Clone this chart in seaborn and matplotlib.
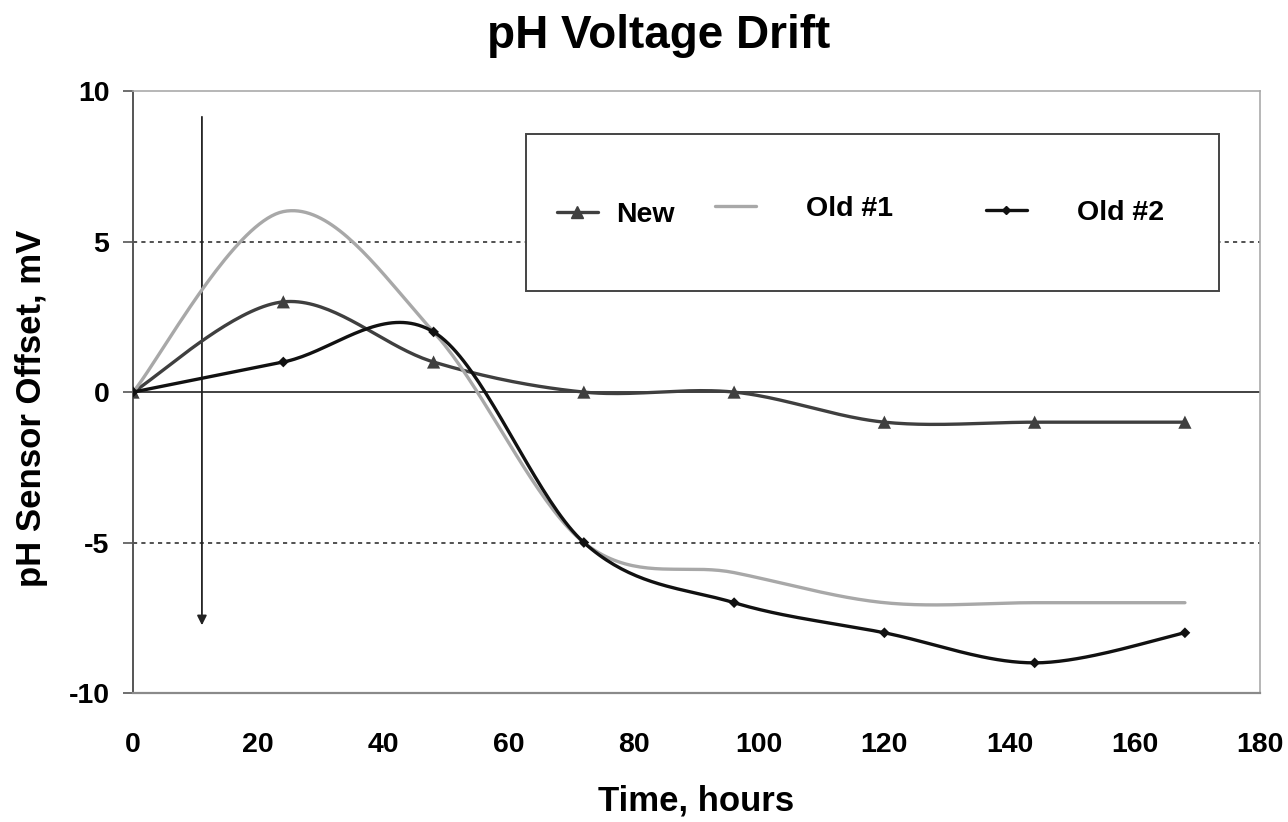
import numpy as np
import pandas as pd
import matplotlib
matplotlib.use("Agg")
import matplotlib.pyplot as plt
import seaborn as sns
from matplotlib.lines import Line2D
from matplotlib.patches import Rectangle

# ---- data ----
hours = [0, 24, 48, 72, 96, 120, 144, 168]
new = [0, 3, 1, 0, 0, -1, -1, -1]
old1 = [0, 6, 2, -5, -6, -7, -7, -7]
old2 = [0, 1, 2, -5, -7, -8, -9, -8]
series_names = ["New", "Old #1", "Old #2"]
x_ticks = list(range(0, 181, 20))
y_ticks = [-10, -5, 0, 5, 10]
title = "pH Voltage Drift"
xlabel = "Time, hours"
ylabel = "pH Sensor Offset, mV"

colors = {"New": "#3f3f3f", "Old #1": "#a8a8a8", "Old #2": "#111111"}


def smooth(xs, ys, n=40):
    """Excel-style smoothed line (cubic Bezier through the data points)."""
    P = np.column_stack([np.asarray(xs, float), np.asarray(ys, float)])
    out = []
    for i in range(len(P) - 1):
        p0 = P[max(i - 1, 0)]
        p1 = P[i]
        p2 = P[i + 1]
        p3 = P[min(i + 2, len(P) - 1)]
        c1 = p1 + (p2 - p0) / 6.0
        c2 = p2 - (p3 - p1) / 6.0
        t = np.linspace(0, 1, n, endpoint=(i == len(P) - 2))[:, None]
        b = (1 - t) ** 3 * p1 + 3 * (1 - t) ** 2 * t * c1 + 3 * (1 - t) * t ** 2 * c2 + t ** 3 * p2
        out.append(b)
    return np.vstack(out)


sns.set_theme(style="white")
plt.rcParams["font.family"] = ["Liberation Sans", "DejaVu Sans"]
plt.rcParams["font.weight"] = "bold"
plt.rcParams["axes.unicode_minus"] = False
plt.rcParams["text.color"] = "black"
plt.rcParams["xtick.color"] = "black"
plt.rcParams["ytick.color"] = "black"
plt.rcParams["axes.labelcolor"] = "black"

fig = plt.figure(figsize=(12.88, 8.22), dpi=100)
ax = fig.add_axes([0.1033, 0.157, 0.8750, 0.732])

frames = []
for name, vals in zip(series_names, [new, old1, old2]):
    c = smooth(hours, vals)
    frames.append(pd.DataFrame({"x": c[:, 0], "y": c[:, 1], "series": name,
                                "order": np.arange(len(c))}))
curves = pd.concat(frames, ignore_index=True)

# reference lines
ax.axhline(0, color="#333333", lw=1.3, zorder=1)
for yv in (5, -5):
    ax.axhline(yv, color="#333333", lw=1.2, ls=(0, (2.5, 2.5)), zorder=1)

sns.lineplot(data=curves, x="x", y="y", hue="series", palette=colors,
             sort=False, estimator=None, units="series", lw=2.4, ax=ax,
             legend=False, zorder=3)

raw = pd.DataFrame({"x": hours * 2, "y": new + old2,
                    "series": ["New"] * len(hours) + ["Old #2"] * len(hours)})
sns.scatterplot(data=raw[raw.series == "New"], x="x", y="y", color=colors["New"],
                marker="^", s=90, edgecolor="none", ax=ax, zorder=4, legend=False)
sns.scatterplot(data=raw[raw.series == "Old #2"], x="x", y="y", color=colors["Old #2"],
                marker="D", s=30, edgecolor="none", ax=ax, zorder=4, legend=False)

# arrow
ax.annotate("", xy=(11, -7.75), xytext=(11, 9.15),
            arrowprops=dict(arrowstyle="-|>", color="#222222", lw=1.3,
                            mutation_scale=14, shrinkA=0, shrinkB=0), zorder=2)

ax.set_xlim(0, 180)
ax.set_ylim(-10, 10)
ax.set_xticks(x_ticks)
ax.set_yticks(y_ticks)
ax.tick_params(axis="x", length=0, pad=28, labelsize=20.5, labelcolor="black")
ax.tick_params(axis="y", length=7, width=1.2, color="#555555", pad=10, labelsize=20.5,
               left=True, labelcolor="black")
for lab in ax.get_xticklabels() + ax.get_yticklabels():
    lab.set_fontweight("bold")

for s in ("top", "right"):
    ax.spines[s].set_color("#aaaaaa")
    ax.spines[s].set_linewidth(1.2)
ax.spines["left"].set_color("#555555")
ax.spines["left"].set_linewidth(1.4)
ax.spines["bottom"].set_color("#8a8a8a")
ax.spines["bottom"].set_linewidth(1.6)

ax.set_xlabel("")
ax.set_ylabel("")
fig.text(696 / 1288, 1 - 801 / 822, xlabel, ha="center", va="center",
         fontsize=25, fontweight="bold", color="black")
fig.text(32 / 1288, 1 - 408 / 822, ylabel, ha="center", va="center", rotation=90,
         fontsize=25, fontweight="bold", color="black")
fig.text(659 / 1288, 1 - 36 / 822, title, ha="center", va="center",
         fontsize=33, fontweight="bold", color="black")

# legend box
ax.add_patch(Rectangle((0.3487, 0.6678), 0.6149, 0.2608, transform=ax.transAxes,
                       facecolor="white", edgecolor="#444444", lw=1.4, zorder=5))

handles = {
    "New": Line2D([], [], color=colors["New"], lw=2.4, marker="^", markersize=8),
    "Old #1": Line2D([], [], color=colors["Old #1"], lw=2.4),
    "Old #2": Line2D([], [], color=colors["Old #2"], lw=2.4, marker="D", markersize=4),
}
positions = {"New": (0.376, 0.62, 0.795), "Old #1": (0.5164, 1.75, 0.805),
             "Old #2": (0.7564, 1.75, 0.797)}
legs = []
for name in series_names:
    xpos, pad, ypos = positions[name]
    leg = ax.legend(handles=[handles[name]], labels=[name], loc="center left",
                    bbox_to_anchor=(xpos, ypos), frameon=False, borderpad=0,
                    borderaxespad=0, handlelength=1.45, handletextpad=pad,
                    prop={"size": 20.5, "weight": "bold"}, labelcolor="black")
    leg.set_zorder(6)
    legs.append(leg)
for leg in legs[:-1]:
    ax.add_artist(leg)

fig.savefig("out.png", dpi=100)
